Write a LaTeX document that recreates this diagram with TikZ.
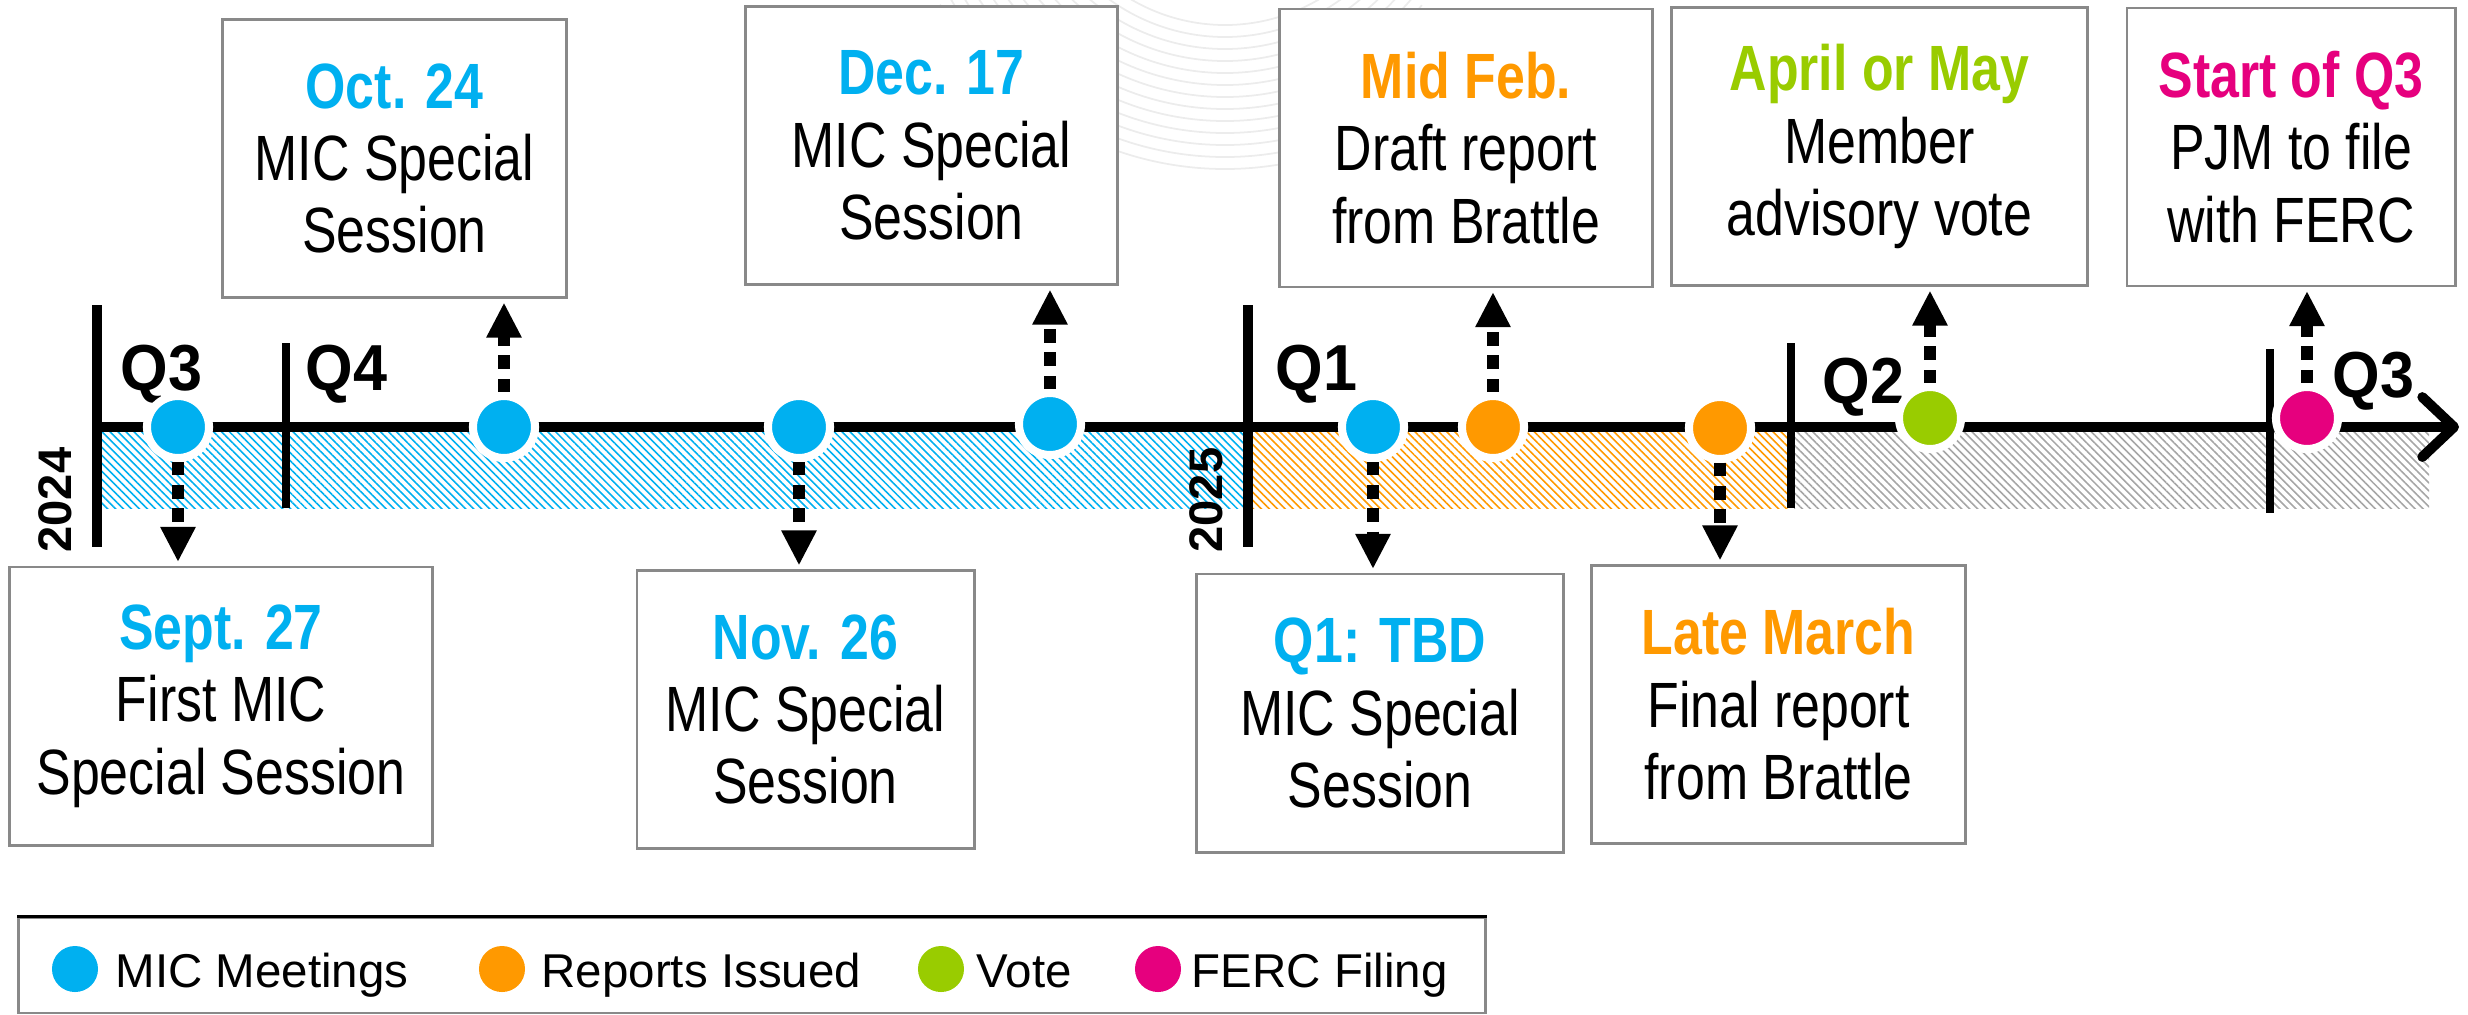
\documentclass[tikz,border=0pt]{standalone}
\usepackage{fontspec}
\setmainfont{Liberation Sans}
\newfontfamily\narrowfont[FakeStretch=0.81]{Liberation Sans}
\newfontfamily\quarterfont[FakeStretch=0.94]{Liberation Sans}
\usetikzlibrary{arrows.meta,patterns.meta,shadows}

\definecolor{micblue}{HTML}{00B0F0}
\definecolor{reportorange}{HTML}{FF9900}
\definecolor{votegreen}{HTML}{99CC00}
\definecolor{fercpink}{HTML}{E6007E}
\definecolor{boxgray}{HTML}{898989}
\definecolor{hatchgray}{HTML}{A6A6A6}

\begin{document}
\begin{tikzpicture}[x=0.01cm,y=-0.01cm,
  event box/.style={draw=boxgray,line width=0.8pt,fill=white,inner sep=0pt,minimum height=2.78cm,
    align=center,font=\narrowfont\fontsize{18.2}{20.6}\selectfont},
  event dot/.style={circle,fill=#1,draw=white,line width=2.3pt,minimum size=0.62cm,inner sep=0pt,
    drop shadow={shadow xshift=0.6pt,shadow yshift=-0.8pt,opacity=0.25}},
  key dot/.style={circle,fill=#1,minimum size=0.46cm,inner sep=0pt},
  link/.style={draw,line width=3.4pt,dash pattern=on 3.8pt off 2.8pt,
    -{Triangle[width=9.4pt,length=10pt]},shorten >=1pt},
  quarter/.style={anchor=base west,inner sep=0pt,font=\quarterfont\bfseries\fontsize{18.5}{20}\selectfont},
  year/.style={rotate=90,inner sep=0pt,font=\bfseries\fontsize{13.4}{15}\selectfont},
  key/.style={anchor=base west,inner sep=0pt,font=\fontsize{13.5}{15}\selectfont},
  band/.style={pattern={Lines[angle=-45,distance=1.6pt,line width=0.45pt]},pattern color=#1}]

 \useasboundingbox (0,0) rectangle (2468,1014);

 % faint logo behind the top boxes
 \foreach \r in {185,197,...,335}
   \draw[gray!15,line width=0.5pt] (1225,-160) ++(40:\r) arc[start angle=40,end angle=150,radius=\r];

 % hatched quarters
 \path[band=micblue] (102,432) rectangle (1243,508);
 \path[band=reportorange] (1253,432) rectangle (1788,508);
 \path[band=hatchgray] (1794,432) rectangle (2429,508);

 % axis and ticks
 \coordinate (start) at (97,427);
 \coordinate (end) at (2459,427);
 \draw[line width=2.85pt,-{Straight Barb[length=9pt,width=17pt,round]}] (start) -- (end);
 \draw[line width=3.1pt] (97,305) -- (97,547);
 \draw[line width=3.1pt] (1248,305) -- (1248,547);
 \draw[line width=2pt] (286,343) -- (286,508);
 \draw[line width=2pt] (1791,343) -- (1791,508);
 \draw[line width=2pt] (2270,349) -- (2270,513);

 \node[year] (y24) at (55,500) {2024};
 \node[year] (y25) at (1206,500) {2025};
 \node[quarter] (q3a) at (120,390) {Q3};
 \node[quarter] (q4) at (305,390) {Q4};
 \node[quarter] (q1) at (1275,390) {Q1};
 \node[quarter] (q2) at (1822,403) {Q2};
 \node[quarter] (q3b) at (2332,397) {Q3};

 % events
 \node[event dot=micblue] (sep) at (178,427) {};
 \node[event dot=micblue] (oct) at (504,427) {};
 \node[event dot=micblue] (nov) at (799,427) {};
 \node[event dot=micblue] (dec) at (1050,424) {};
 \node[event dot=micblue] (tbd) at (1373,427) {};
 \node[event dot=reportorange] (feb) at (1493,427) {};
 \node[event dot=reportorange] (mar) at (1720,428) {};
 \node[event dot=votegreen] (vote) at (1930,418) {};
 \node[event dot=fercpink] (ferc) at (2307,418) {};

 \node[event box,minimum width=3.43cm] (octbox) at (394.5,158.5)
   {{\color{micblue}\bfseries Oct. 24}\\MIC Special\\Session};
 \node[event box,minimum width=3.71cm] (decbox) at (931.5,145.5)
   {{\color{micblue}\bfseries Dec. 17}\\MIC Special\\Session};
 \node[event box,minimum width=3.72cm] (febbox) at (1466,148)
   {{\color{reportorange}\bfseries Mid Feb.}\\Draft report\\from Brattle};
 \node[event box,minimum width=4.15cm] (votebox) at (1879.5,146.5)
   {{\color{votegreen}\bfseries April or May}\\Member\\advisory vote};
 \node[event box,minimum width=3.28cm] (fercbox) at (2291,147)
   {{\color{fercpink}\bfseries Start of Q3}\\PJM to file\\with FERC};
 \node[event box,minimum width=4.22cm] (sepbox) at (221,706)
   {{\color{micblue}\bfseries Sept. 27}\\First MIC\\Special Session};
 \node[event box,minimum width=3.37cm] (novbox) at (805.5,709.5)
   {{\color{micblue}\bfseries Nov. 26}\\MIC Special\\Session};
 \node[event box,minimum width=3.66cm] (tbdbox) at (1380,713)
   {{\color{micblue}\bfseries Q1: TBD}\\MIC Special\\Session};
 \node[event box,minimum width=3.73cm] (marbox) at (1778.5,704.5)
   {{\color{reportorange}\bfseries Late March}\\Final report\\from Brattle};

 \path
    (sep)  edge [link] (sep |- sepbox.north)
    (oct)  edge [link] (oct |- octbox.south)
    (nov)  edge [link] (nov |- novbox.north)
    (dec)  edge [link] (dec |- decbox.south)
    (tbd)  edge [link] (tbd |- tbdbox.north)
    (feb)  edge [link] (feb |- febbox.south)
    (mar)  edge [link] (mar |- marbox.north)
    (vote) edge [link] (vote |- votebox.south)
    (ferc) edge [link] (ferc |- fercbox.south);

 % legend
 \node[draw=boxgray,line width=0.8pt,minimum width=14.66cm,minimum height=0.95cm] (legend) at (752,965.5) {};
 \draw[line width=1pt] (legend.north west) -- (legend.north east);
 \node[key dot=micblue] (k1) at (75,969) {};
 \node[key] (t1) at (115,987) {MIC Meetings};
 \node[key dot=reportorange] (k2) at (502,969) {};
 \node[key] (t2) at (541,987) {Reports Issued};
 \node[key dot=votegreen] (k3) at (941,969) {};
 \node[key] (t3) at (976,987) {Vote};
 \node[key dot=fercpink] (k4) at (1158,969) {};
 \node[key] (t4) at (1191,987) {FERC Filing};

\end{tikzpicture}
\end{document}
